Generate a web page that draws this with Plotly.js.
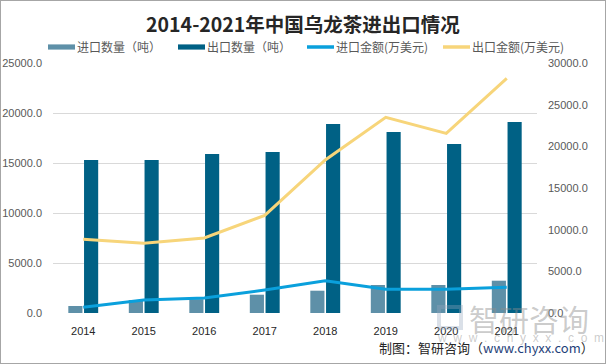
<!DOCTYPE html>
<html><head><meta charset="utf-8">
<script src="https://cdn.plot.ly/plotly-3.0.1.min.js"></script>
<style>
html,body{margin:0;padding:0;background:#fff;}
#wrap{width:606px;height:364px;box-sizing:border-box;border:1px solid #a6a6a6;position:relative;overflow:hidden;}
#chart{position:absolute;left:-1px;top:-1px;width:606px;height:364px;}
</style></head>
<body><div id="wrap"><div id="chart"></div></div>
<script>
const years = ['2014','2015','2016','2017','2018','2019','2020','2021'];
const importQty = [700, 1300, 1380, 1830, 2230, 2800, 2800, 3230];
const exportQty = [15300, 15300, 15900, 16100, 18900, 18100, 16900, 19100];
const importValue = [680, 1560, 1800, 2760, 3880, 2840, 2840, 3080];
const exportValue = [8840, 8360, 9000, 11720, 18360, 23480, 21560, 28160];
const seriesNames = ['进口数量（吨）', '出口数量（吨）', '进口金额(万美元)', '出口金额(万美元)'];
const seriesColors = ['#5e90a8', '#006185', '#0aa0dc', '#f7d57a'];

const cjk = '"Noto Sans CJK SC", "Noto Sans", sans-serif';
const num = '"Liberation Sans", Arial, sans-serif';

// plot area geometry (pixels) used to place legend / watermark in paper coords
const L = 53, R = 537, T = 63, B = 313;
const px = v => (v - L) / (R - L);
const py = v => (B - v) / (B - T);

const traces = [
  {type:'bar', name:seriesNames[0], x:years, y:importQty, marker:{color:seriesColors[0]}},
  {type:'bar', name:seriesNames[1], x:years, y:exportQty, marker:{color:seriesColors[1]}},
  {type:'scatter', mode:'lines', name:seriesNames[2], x:years, y:importValue, yaxis:'y2', line:{color:seriesColors[2], width:3}},
  {type:'scatter', mode:'lines', name:seriesNames[3], x:years, y:exportValue, yaxis:'y2', line:{color:seriesColors[3], width:3}}
];

// custom legend (wide rectangles for bars, short lines for lines)
const legendX = [48, 178, 307, 443];
const legendW = 27;
const legendY = 47;
const shapes = [];
const annotations = [];
seriesNames.forEach((n, i) => {
  if (i < 2) {
    shapes.push({type:'rect', xref:'paper', yref:'paper', x0:px(legendX[i]), x1:px(legendX[i]+legendW), y0:py(legendY+2.6), y1:py(legendY-2.6), fillcolor:seriesColors[i], line:{width:0}});
  } else {
    shapes.push({type:'line', xref:'paper', yref:'paper', x0:px(legendX[i]), x1:px(legendX[i]+legendW), y0:py(legendY), y1:py(legendY), line:{color:seriesColors[i], width:3.5}});
  }
  annotations.push({text:n, xref:'paper', yref:'paper', x:px(legendX[i]+legendW), y:py(legendY), xanchor:'left', yanchor:'middle', showarrow:false, font:{family:cjk, size:12, color:'#595959'}});
});

// watermark logo (faint)
shapes.push({type:'rect', xref:'paper', yref:'paper', x0:px(439), x1:px(461), y0:py(328), y1:py(307), fillcolor:'rgba(0,0,0,0)', line:{color:'rgba(150,165,190,0.35)', width:4}});

const nb = '\u00a0\u00a0';
annotations.push(
  {text:'智研咨询', xref:'paper', yref:'paper', x:px(467), y:py(318), xanchor:'left', yanchor:'middle', showarrow:false, font:{family:cjk, size:30, color:'rgba(140,140,140,0.45)'}},
  {text:['w','w','w','.','c','h','y','x','x','.','c','o','m'].join(nb), xref:'paper', yref:'paper', x:px(435), y:py(338), xanchor:'left', yanchor:'middle', showarrow:false, font:{family:num, size:12, color:'rgba(140,140,140,0.45)'}},
  {text:'制图：智研咨询（<span style="color:#1f3f7a">www.chyxx.com</span>）', xref:'paper', yref:'paper', x:px(596), y:py(347), xanchor:'right', yanchor:'middle', showarrow:false, font:{family:cjk, size:13, color:'#262626'}}
);

const layout = {
  width:606, height:364,
  margin:{l:L, r:606-R, t:T, b:364-B},
  paper_bgcolor:'#fff', plot_bgcolor:'#fff',
  font:{family:cjk, size:11, color:'#595959'},
  title:{text:'<b>2014-2021年中国乌龙茶进出口情况</b>', x:0.5, xanchor:'center', y:0.93, yanchor:'middle', font:{family:cjk, size:19.5, color:'#262626'}},
  barmode:'group', bargap:0.48, bargroupgap:0.1,
  showlegend:false,
  xaxis:{type:'category', showgrid:false, zeroline:false, showline:false, ticks:'', ticklabelstandoff:10, tickfont:{family:num, size:11, color:'#262626'}},
  yaxis:{range:[0,25000], dtick:5000, tickformat:'.1f', showgrid:true, gridcolor:'#d9d9d9', gridwidth:1, zeroline:false, showline:false, ticks:'', ticklabelstandoff:10, tickfont:{family:num, size:11, color:'#595959'}},
  yaxis2:{overlaying:'y', side:'right', range:[0,30000], dtick:5000, tickformat:'.1f', showgrid:false, zeroline:false, showline:false, ticks:'', ticklabelstandoff:10, tickfont:{family:num, size:11, color:'#595959'}},
  shapes:shapes,
  annotations:annotations
};
Plotly.newPlot('chart', traces, layout, {displayModeBar:false, staticPlot:true});
</script></body></html>
